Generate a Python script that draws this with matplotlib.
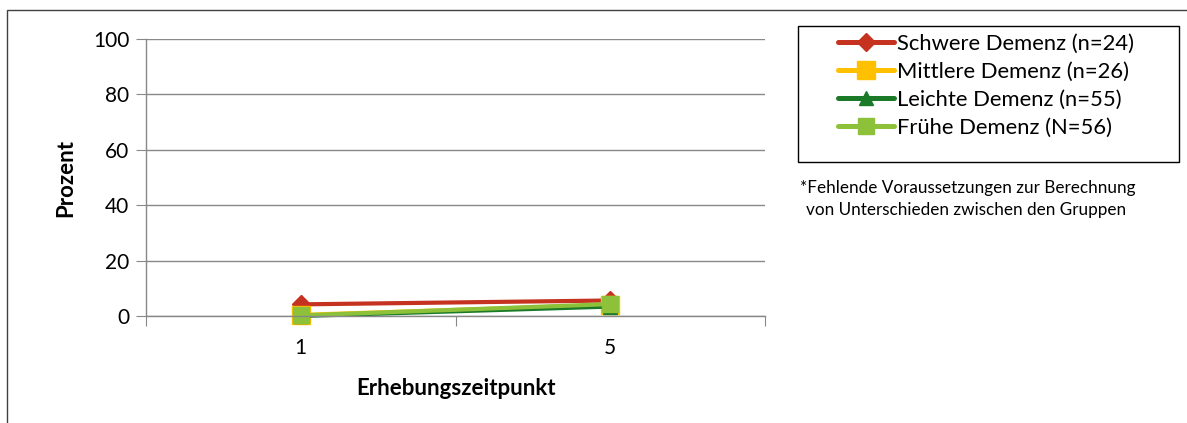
import matplotlib.pyplot as plt
import matplotlib.patches as mpatches
import numpy as np

plt.rcParams['font.family'] = ['Lato', 'DejaVu Sans']

# Daten
zeitpunkte = ['1', '5']
schwere = [4.2, 5.6]
mittlere = [0.4, 4.0]
leichte = [0.0, 3.4]
fruehe = [0.2, 4.3]

serien = [
    ('Schwere Demenz (n=24)', schwere, '#C5321F', 'D', 9),
    ('Mittlere Demenz (n=26)', mittlere, '#FFC000', 's', 13),
    ('Leichte Demenz (n=55)', leichte, '#1A7A28', '^', 10),
    ('Frühe Demenz (N=56)', fruehe, '#8DC13A', 's', 11),
]

W, H = 1187, 423
fig = plt.figure(figsize=(W/100, H/100), dpi=100)
ax = fig.add_axes([146/W, 1 - 316/H, (765-146)/W, (316-39)/H])

x = np.arange(len(zeitpunkte)) + 0.5
for name, werte, farbe, marker, ms in serien:
    ax.plot(x, werte, color=farbe, lw=3, marker=marker, markersize=ms,
            label=name, solid_capstyle='round', clip_on=False)

ax.set_xlim(0, 2)
ax.set_ylim(0, 100)
ax.set_yticks(np.arange(0, 101, 20))
ax.set_xticks([0, 1, 2])
ax.set_xticklabels(['', '', ''])
ax.set_xticks(x, minor=True)
ax.set_xticklabels(zeitpunkte, minor=True)
ax.tick_params(axis='x', which='minor', length=0, pad=16, labelsize=15)
ax.tick_params(axis='x', which='major', length=7, color='#888888')
ax.tick_params(axis='y', length=7, color='#888888', labelsize=15, pad=5)
ax.grid(axis='y', color='#888888', lw=1)
ax.set_axisbelow(True)
for s in ['top', 'right']:
    ax.spines[s].set_visible(False)
for s in ['left', 'bottom']:
    ax.spines[s].set_color('#888888')
    ax.spines[s].set_linewidth(1)

ax.set_xlabel('Erhebungszeitpunkt', fontsize=16, fontweight='bold', labelpad=14)
ax.set_ylabel('Prozent', fontsize=16, fontweight='bold', labelpad=12)

# Legende ohne eigenen Rahmen, Rahmen separat
leg = fig.legend(loc='upper left', bbox_to_anchor=(838/W, 1 - 34/H),
                 fontsize=15.8, frameon=False,
                 handlelength=2.55, handletextpad=0.15, borderpad=0,
                 labelspacing=0.36, borderaxespad=0)
for h in leg.get_lines():
    h.set_linewidth(3.6)
fig.patches.append(mpatches.Rectangle((798/W, 1 - 162/H), (1179-798)/W, (162-26)/H,
                                      transform=fig.transFigure, fill=False,
                                      edgecolor='black', lw=1))

fig.text(800/W, 1 - 188/H, '*Fehlende Voraussetzungen zur Berechnung',
         fontsize=12.3, va='center', ha='left')
fig.text(806/W, 1 - 210/H, 'von Unterschieden zwischen den Gruppen',
         fontsize=12.3, va='center', ha='left')

# Rahmen um das Diagramm
fig.patches.append(mpatches.Rectangle((7/W, -0.1), 1.1, 1 - 10/H + 0.1,
                                      transform=fig.transFigure, fill=False,
                                      edgecolor='#404040', lw=1))

fig.savefig('out.png', dpi=100)
